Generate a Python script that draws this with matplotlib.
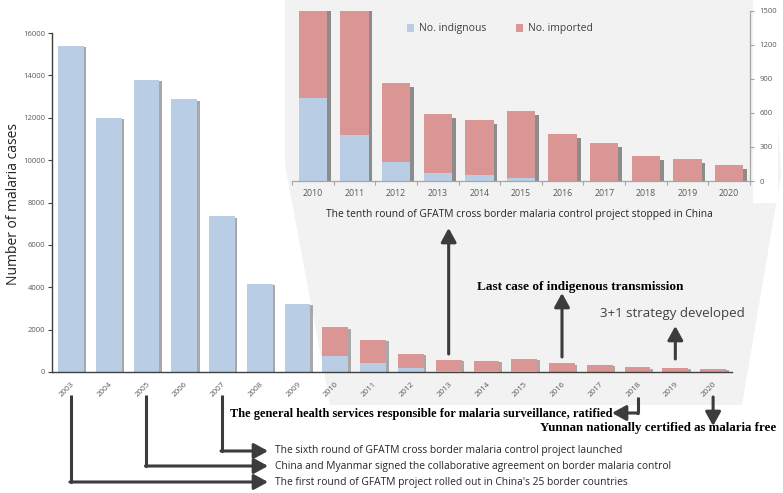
import matplotlib
matplotlib.use("Agg")
import matplotlib.pyplot as plt
from matplotlib.patches import Polygon, Rectangle
import numpy as np

# 数据
years = [str(y) for y in range(2003, 2021)]
indigenous = [15400, 12000, 13800, 12870, 7360, 4170, 3210,
              734, 405, 167, 70, 50, 29, 0, 0, 0, 0, 0]
imported = [0, 0, 0, 0, 0, 0, 0,
            1376, 1125, 699, 517, 487, 590, 417, 335, 223, 196, 141]

inset_years = years[7:]
inset_indigenous = indigenous[7:]
inset_imported = imported[7:]

main_yticks = [0, 2000, 4000, 6000, 8000, 10000, 12000, 14000, 16000]
inset_yticks = [0, 300, 600, 900, 1200, 1500]

BLUE = "#b9cde5"
RED = "#d99694"
ARROW = "#3c3c3c"
SANS = "Open Sans"
SERIF = "Liberation Serif"

W, H = 783, 493
fig = plt.figure(figsize=(W / 100, H / 100), dpi=100)


def fx(x):
    return x / W


def fy(y):
    return 1 - y / H


# 背景灰色放大区域
bg = fig.add_axes([0, 0, 1, 1], zorder=0)
bg.set_xlim(0, W)
bg.set_ylim(H, 0)
bg.axis("off")
bg.add_patch(Polygon([(285, 0), (770, 0), (781, 175), (742, 405), (330, 405), (285, 165)],
                     closed=True, facecolor="#f2f2f2", edgecolor="none"))
bg.add_patch(Rectangle((753, 0), 25, 203, facecolor="white", edgecolor="none"))

# 主图
ax = fig.add_axes([fx(52), fy(372), fx(732 - 52), (372 - 33) / H], zorder=1)
ax.patch.set_alpha(0)
x = np.arange(len(years))
tot = np.array(indigenous) + np.array(imported)
ax.bar(x + 0.07, np.maximum(tot - 70, 0), width=0.68, color="#a8a8a8", zorder=1)
ax.bar(x, indigenous, width=0.68, color=BLUE, zorder=2)
ax.bar(x, imported, bottom=indigenous, width=0.68, color=RED, zorder=2)
ax.set_xlim(-0.5, len(years) - 0.5)
ax.set_ylim(0, 16000)
ax.set_yticks(main_yticks)
ax.set_yticklabels([str(v) for v in main_yticks], fontsize=5.5, color="#595959", family=SANS)
ax.set_xticks(x)
ax.set_xticklabels(years, rotation=45, ha="right", va="top", rotation_mode="anchor",
                   fontsize=5.7, color="#595959", family=SANS)
ax.tick_params(axis="x", length=0, pad=6)
ax.tick_params(axis="y", length=3, width=0.8, color="#404040", pad=2)
for s in ["top", "right"]:
    ax.spines[s].set_visible(False)
for s in ["left", "bottom"]:
    ax.spines[s].set_color("#404040")
    ax.spines[s].set_linewidth(1.0)
fig.text(fx(14), fy(204), "Number of malaria cases", rotation=90, ha="center", va="center",
         fontsize=10, family=SANS, color="#222222")

# 放大图
ai = fig.add_axes([fx(292), fy(181), fx(750 - 292), (181 - 10.7) / H], zorder=2)
ai.patch.set_alpha(0)
xi = np.arange(len(inset_years))
tot_i = np.array(inset_indigenous) + np.array(inset_imported)
ai.bar(xi + 0.09, np.maximum(tot_i - 35, 0), width=0.68, color="#8c8c8c", zorder=1)
ai.bar(xi, inset_indigenous, width=0.68, color=BLUE, zorder=2, label="No. indignous")
ai.bar(xi, inset_imported, bottom=inset_indigenous, width=0.68, color=RED, zorder=2,
       label="No. imported")
ai.set_xlim(-0.5, len(inset_years) - 0.5)
ai.set_ylim(0, 1500)
ai.set_xticks(xi)
ai.set_xticklabels(inset_years, fontsize=6.3, color="#595959", family=SANS)
ai.set_xticks(np.arange(-0.5, len(inset_years)), minor=True)
ai.tick_params(axis="x", which="major", length=0, pad=6)
ai.tick_params(axis="x", which="minor", length=3, width=0.8, color="#a6a6a6")
ai.yaxis.tick_right()
ai.set_yticks(inset_yticks)
ai.set_yticklabels([str(v) for v in inset_yticks], fontsize=5.5, color="#595959", family=SANS)
ai.tick_params(axis="y", length=3, width=0.8, color="#a6a6a6", pad=4)
for s in ["top", "left"]:
    ai.spines[s].set_visible(False)
for s in ["right", "bottom"]:
    ai.spines[s].set_color("#a6a6a6")
    ai.spines[s].set_linewidth(0.9)
ai.legend(loc="center", bbox_to_anchor=(fx(500), fy(29)), bbox_transform=fig.transFigure,
          ncol=2, frameon=False, prop={"family": SANS, "size": 7.5},
          handlelength=0.7, handleheight=0.7, columnspacing=2.8, handletextpad=0.5,
          labelcolor="#404040")

# 注释层
ov = fig.add_axes([0, 0, 1, 1], zorder=3)
ov.set_xlim(0, W)
ov.set_ylim(H, 0)
ov.axis("off")


def year_px(year):
    i = years.index(year)
    return ax.transData.transform((i, 0))[0]


def arrow(x0, y0, x1, y1):
    ov.annotate("", xy=(x1, y1), xytext=(x0, y0),
                arrowprops=dict(arrowstyle="-|>,head_length=0.6,head_width=0.33", lw=2.2,
                                color=ARROW, mutation_scale=14, shrinkA=0, shrinkB=0))


def elbow(x0, y0, ymid, x1):
    ov.plot([x0, x0], [y0, ymid], color=ARROW, lw=2.2, solid_capstyle="butt")
    ov.plot([x0 - 1.1, x0 + 1], [ymid, ymid], color=ARROW, lw=2.2, solid_capstyle="butt")
    arrow(x0 - 1, ymid, x1, ymid)


arrow(year_px("2013"), 354, year_px("2013"), 228)
arrow(year_px("2016"), 357, year_px("2016"), 293)
arrow(year_px("2019"), 359, year_px("2019"), 326)
arrow(year_px("2020"), 397, year_px("2020"), 426)
elbow(year_px("2018"), 397, 413, 612)
elbow(year_px("2007"), 395, 451, 268)
elbow(year_px("2005"), 395, 466, 268)
elbow(year_px("2003"), 395, 482, 268)

ov.text(519, 215, "The tenth round of GFATM cross border malaria control project stopped in China",
        ha="center", va="center", fontsize=7.4, family=SANS, color="#262626")
ov.text(580, 287, "Last case of indigenous transmission", ha="center", va="center",
        fontsize=9.5, family=SERIF, weight="bold", color="black")
ov.text(672, 313, "3+1 strategy developed", ha="center", va="center",
        fontsize=9.5, family=SANS, color="#404040")
ov.text(230, 414, "The general health services responsible for malaria surveillance, ratified",
        ha="left", va="center", fontsize=8.9, family=SERIF, weight="bold", color="black")
ov.text(776, 428, "Yunnan nationally certified as malaria free", ha="right", va="center",
        fontsize=9.3, family=SERIF, weight="bold", color="black")
ov.text(275, 451, "The sixth round of GFATM cross border malaria control project launched",
        ha="left", va="center", fontsize=7.4, family=SANS, color="#262626")
ov.text(275, 466, "China and Myanmar signed the collaborative agreement on border malaria control",
        ha="left", va="center", fontsize=7.4, family=SANS, color="#262626")
ov.text(275, 482, "The first round of GFATM project rolled out in China's 25 border countries",
        ha="left", va="center", fontsize=7.4, family=SANS, color="#262626")

fig.savefig("out.png", dpi=100)
